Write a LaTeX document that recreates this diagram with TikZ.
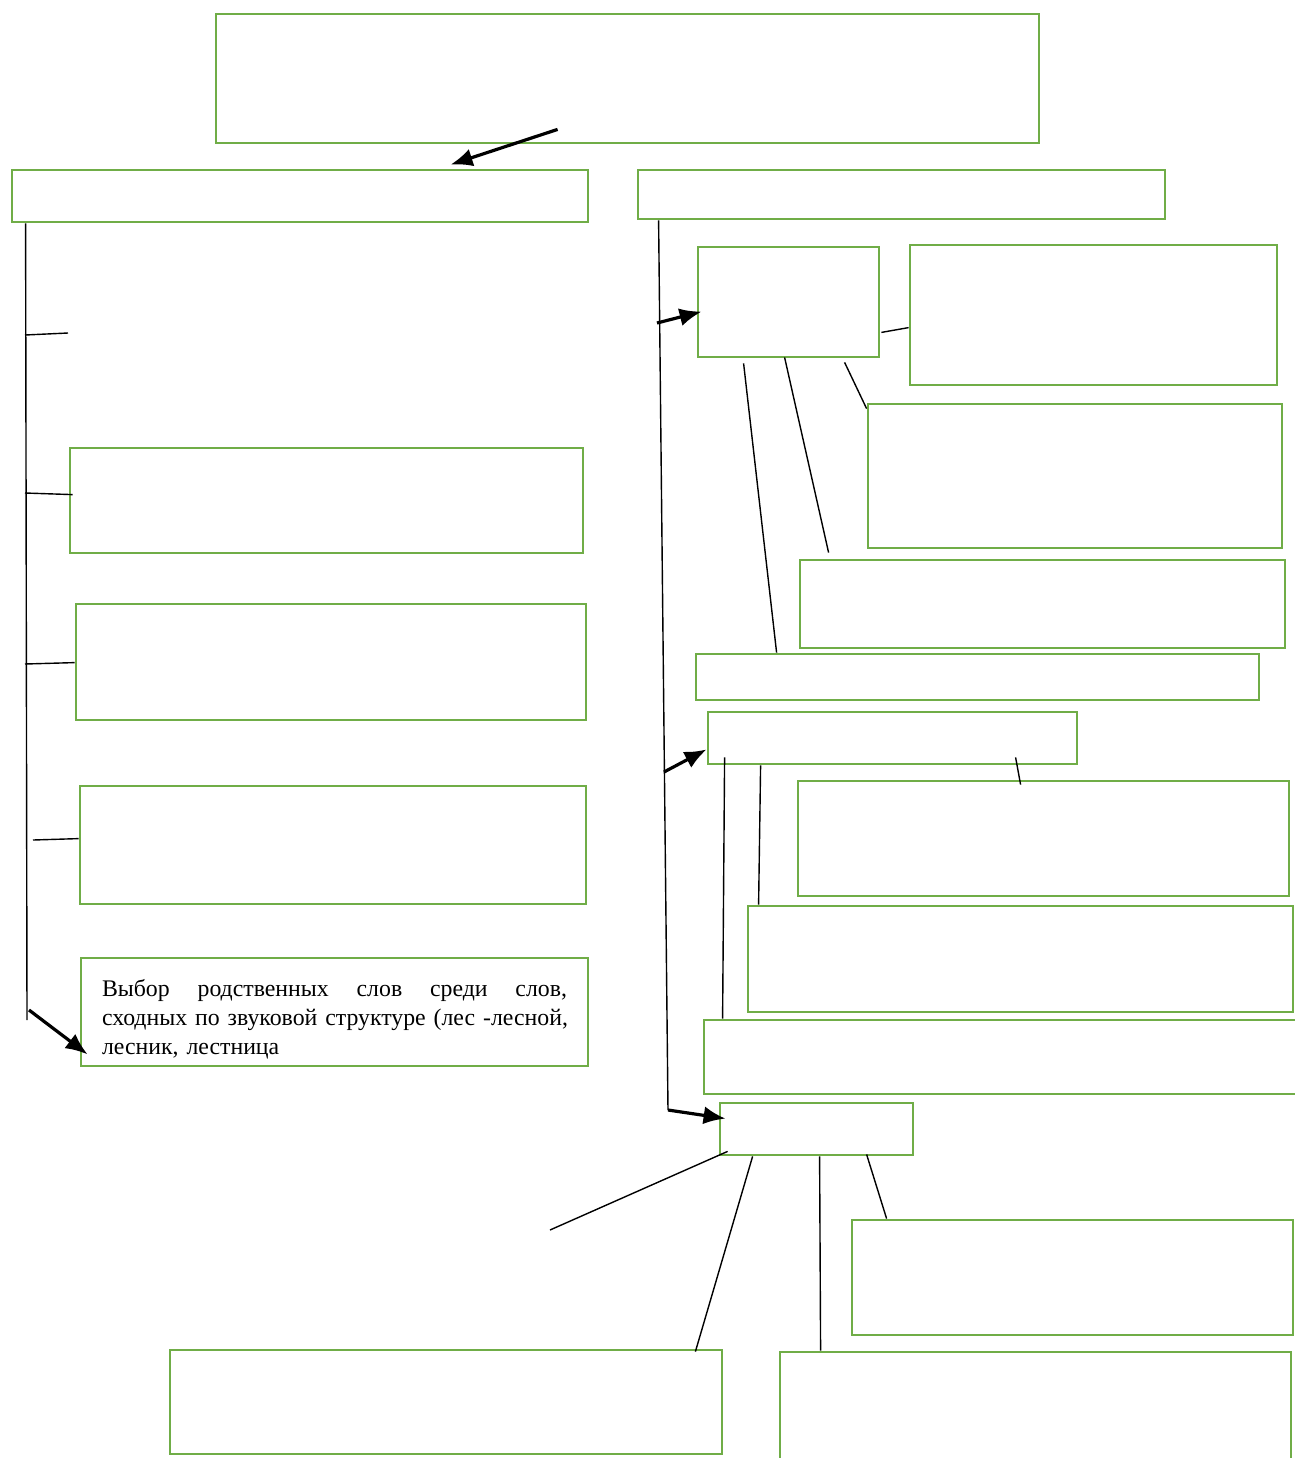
\documentclass[tikz,border=0pt]{standalone}
\usepackage{fontspec}
\setmainfont{Liberation Serif}
\usetikzlibrary{fit,calc,arrows.meta}
\definecolor{boxgreen}{RGB}{112,173,71}
\tikzset{
  box/.style={draw=boxgreen, line width=1.4pt, inner sep=0pt, rectangle},
  thin/.style={draw=black, line width=0.7pt},
  bigarrow/.style={draw=black, line width=1.6pt, -{Latex[length=11pt,width=9pt]}},
  boxtext/.style={inner sep=0pt, anchor=north west, text width=232.5pt, align=left,
      font=\fontsize{11.9pt}{14.5pt}\selectfont},
}
\begin{document}
\begin{tikzpicture}[x=0.5pt,y=-0.5pt]
\path[use as bounding box, clip] (0,0) rectangle (1295,1458);
\fill[white] (0,0) rectangle (1295,1458);

% boxes
\node[box, fit={(216,14) (1039,143)}] (b1) {};
\node[box, fit={(12,170) (588,222)}] (b2) {};
\node[box, fit={(638,170) (1165,219)}] (b3) {};
\node[box, fit={(698,247) (879,357)}] (b4) {};
\node[box, fit={(910,245) (1277,385)}] (b5) {};
\node[box, fit={(868,404) (1282,548)}] (b6) {};
\node[box, fit={(800,560) (1285,648)}] (b7) {};
\node[box, fit={(696,654) (1259,700)}] (b8) {};
\node[box, fit={(708,712) (1077,764)}] (b9) {};
\node[box, fit={(798,781) (1289,896)}] (b10) {};
\node[box, fit={(748,906) (1293,1012)}] (b11) {};
\node[box, fit={(704,1020) (1302,1094)}] (b12) {};
\node[box, fit={(720,1103) (913,1155)}] (b13) {};
\node[box, fit={(852,1220) (1293,1335)}] (b14) {};
\node[box, fit={(170,1350) (722,1454)}] (b15) {};
\node[box, fit={(780,1352) (1291,1470)}] (b16) {};
\node[box, fit={(70,448) (583,553)}] (b17) {};
\node[box, fit={(76,604) (586,720)}] (b18) {};
\node[box, fit={(80,786) (586,904)}] (b19) {};
\node[box, fit={(81,958) (588,1066)}] (b20) {};
\node[boxtext] (b20t) at ($(b20.north west)+(22,22)$)
  {\leavevmode\hbox to 232.5pt{Выбор\hfill родственных\hfill слов\hfill среди\hfill слов,}\\
   \leavevmode\hbox to 232.5pt{сходных по звуковой структуре (лес -лесной,\hss}\\
   лесник, лестница};

% left spine
\coordinate (lspineEnd) at (27,1020);
\coordinate (lfree) at (68,333);
\coordinate (lt1) at (25,335);
\coordinate (lt2) at (25,493);
\coordinate (lt3) at (25,664);
\coordinate (lt4) at (33,840);
\coordinate (la) at (29,1010);
\draw[thin] ($(b2.south west)+(15,0)$) -- (lspineEnd);
\draw[thin] (lt1) -- (lfree);
\draw[thin] (lt2) -- ($(b17.north west)+(4,48)$);
\draw[thin] (lt3) -- ($(b18.north west)+(0,60)$);
\draw[thin] (lt4) -- ($(b19.north west)+(0,54)$);
\draw[bigarrow] (la) -- ($(b20.south west)+(8,-13)$);

% top arrow
\draw[bigarrow] ($(b1.south west)+(343,-15)$) -- ($(b2.north west)+(440,-4)$);

% right spine
\coordinate (rbend) at (668,1110);
\coordinate (ra1) at (657,323);
\coordinate (ra2) at (664,772);
\draw[thin] ($(b3.south west)+(22,0)$) -- (rbend);
\draw[bigarrow] (rbend) -- ($(b13.north west)+(7,17)$);
\draw[bigarrow] (ra1) -- ($(b4.north west)+(5,66)$);
\draw[bigarrow] (ra2) -- ($(b9.south west)+(0,-16)$);

% from b4
\draw[thin] ($(b4.south west)+(47,5)$) -- ($(b8.north west)+(82,0)$);
\draw[thin] ($(b4.south west)+(88,-1)$) -- ($(b7.north west)+(30,-6)$);
\draw[thin] ($(b4.south west)+(148,4)$) -- ($(b6.north west)+(0,6)$);
\draw[thin] ($(b4.south east)+(1,-26)$) -- ($(b5.north west)+(0,84)$);

% from b9
\draw[thin] ($(b9.south west)+(18,-8)$) -- ($(b12.north west)+(20,0)$);
\draw[thin] ($(b9.south west)+(54,0)$) -- ($(b11.north west)+(12,0)$);
\draw[thin] ($(b9.south west)+(309,-8)$) -- ($(b10.north west)+(224,5)$);

% from b13
\coordinate (bfree) at (550,1230);
\draw[thin] ($(b13.south west)+(9,-5)$) -- (bfree);
\draw[thin] ($(b13.south west)+(34,0)$) -- ($(b15.north east)+(-28,3)$);
\draw[thin] ($(b13.south west)+(101,0)$) -- ($(b16.north west)+(42,0)$);
\draw[thin] ($(b13.south west)+(148,-2)$) -- ($(b14.north west)+(36,0)$);
\end{tikzpicture}
\end{document}
